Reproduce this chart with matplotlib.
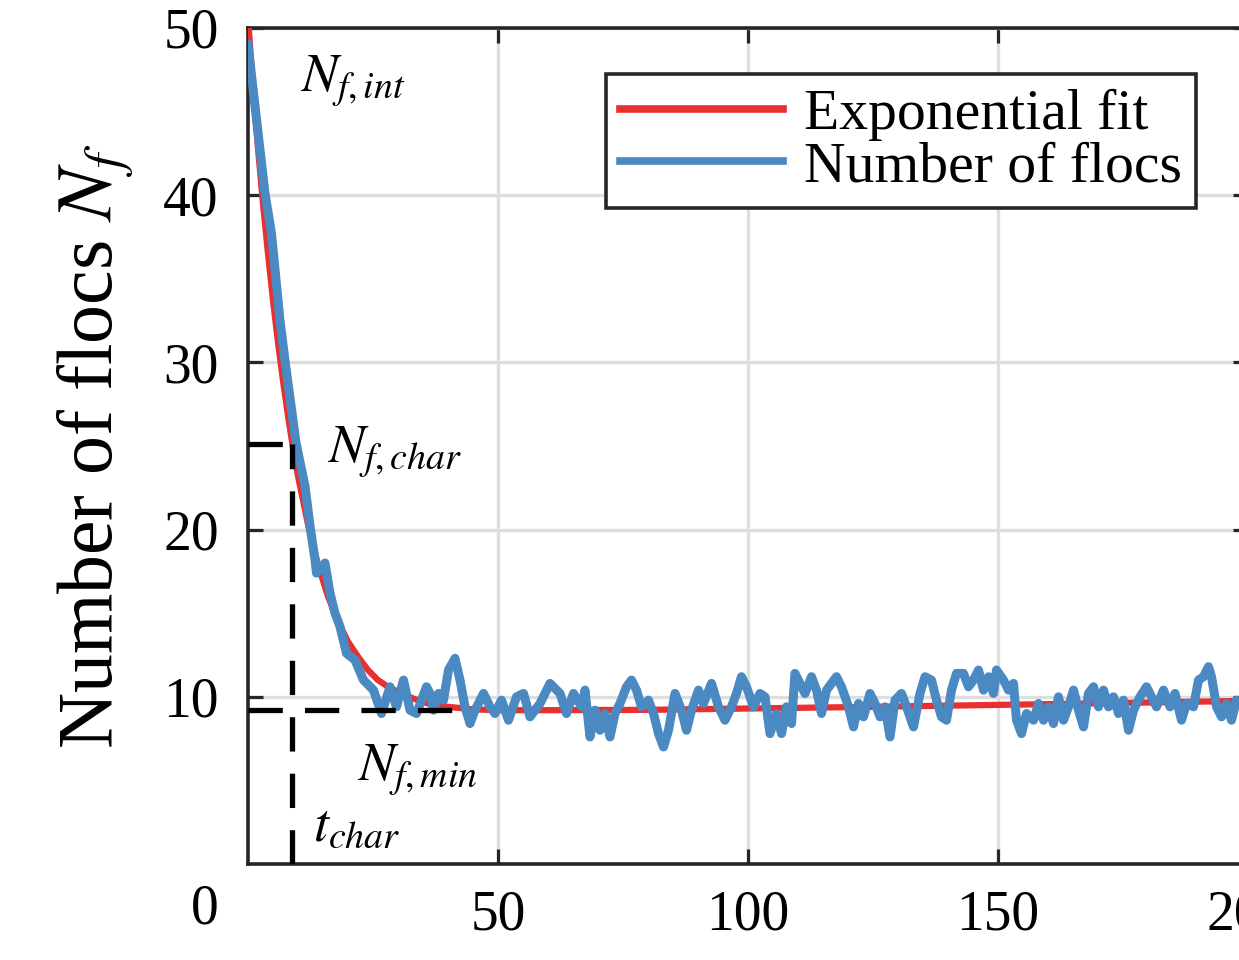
import matplotlib
matplotlib.use("Agg")
import matplotlib.pyplot as plt

# exponential fit
fit_t = [0, 1, 2, 3, 4, 5, 6, 7, 8, 9, 10, 12, 14, 16, 18, 20, 22, 24, 26, 28,
         30, 33, 36, 40, 45, 50, 60, 80, 100, 120, 140, 160, 180, 200]
fit_n = [50.6, 46.5, 42.8, 39.5, 36.5, 33.7, 31.2, 28.9, 26.8, 24.9, 23.2, 20.3,
         17.9, 16.0, 14.5, 13.3, 12.4, 11.6, 11.0, 10.6, 10.3, 9.9, 9.6, 9.4,
         9.25, 9.2, 9.2, 9.22, 9.3, 9.38, 9.47, 9.56, 9.66, 9.76]

# number of flocs (measured)
flocs_t = [0, 3.4, 4.7, 6.4, 7.4, 9.6, 11.4, 12.5, 13.4, 13.7, 15.4, 16.4, 17.4,
           18.4, 19.7, 21.4, 23.1, 25.1, 26.7, 28.4, 29.7, 31.1, 32.4, 33.7, 35.7,
           36.4, 37.1, 38.1, 39.1, 40.1, 41.4, 42.4, 43.4, 44.4, 45.4, 47.1, 48.4,
           49.4, 50.7, 52.1, 53.7, 55.1, 56.4, 58.4, 60.4, 62.4, 63.7, 65.1,
           66.7, 67.4, 68.4, 69.4, 70.4, 71.4, 72.4, 73.4, 74.4, 75.7, 76.7, 77.7,
           78.7, 80.1, 81.1, 82.1, 83.1, 84.1, 85.4, 86.7, 87.7, 88.7, 90.1, 91.1,
           92.7, 94.1, 95.4, 96.7, 97.7, 98.7, 99.7, 101.1, 102.4,
           103.4, 104.4, 105.7, 106.7, 107.7, 108.7, 109.4, 110.4, 111.4, 112.7,
           113.7, 114.7, 115.7, 116.7, 117.7, 118.7, 120.1, 121.1, 122.1, 123.1,
           124.4, 125.4, 126.4, 127.4, 128.4, 129.4, 130.7, 131.7, 133.1, 134.4,
           135.4, 136.7, 137.7, 138.7, 139.7, 140.7, 141.7,
           143.1, 144.1, 145.1, 146.1, 147.1, 148.1, 149.1, 149.7, 151.1, 152.1,
           153.1, 153.7, 154.7, 155.7, 157.1, 158.1, 159.1, 160.1, 161.1, 162.1,
           163.1, 164.1, 165.1, 166.1, 167.1, 168.1, 169.1, 170.1, 171.1, 172.1,
           173.1, 174.1, 175.1, 176.1, 177.1, 178.4, 179.7,
           181.7, 183.1, 184.4, 185.4, 186.7, 187.7, 189.1, 190.1, 191.1, 192.1,
           192.7, 193.7, 194.7, 195.7, 196.7, 197.7, 200]
flocs_n = [49.0, 40.1, 37.7, 32.5, 30.1, 25.2, 22.6, 20.0, 18.2, 17.4, 18.0, 16.2, 15.0,
           14.2, 12.6, 12.2, 11.0, 10.4, 9.0, 10.6, 9.4, 11.0, 9.2, 9.0, 10.6,
           10.2, 9.2, 10.2, 9.8, 11.6, 12.3, 11.0, 9.4, 8.4, 9.2, 10.2, 9.4,
           9.0, 9.8, 8.6, 10.0, 10.2, 8.8, 9.6, 10.8, 10.2, 9.0, 10.2,
           9.4, 10.4, 7.6, 9.2, 8.0, 9.0, 7.6, 9.0, 9.6, 10.6, 11.0, 10.4,
           9.4, 9.8, 9.0, 7.8, 7.0, 8.0, 10.2, 9.2, 8.0, 9.2, 10.4, 9.6,
           10.8, 9.4, 8.6, 9.4, 10.2, 11.2, 10.6, 9.4, 10.2,
           10.0, 7.8, 9.0, 7.8, 9.4, 8.4, 11.4, 10.8, 10.2, 11.2,
           10.4, 9.0, 10.4, 10.8, 11.2, 10.6, 9.4, 8.2, 9.6, 8.8,
           10.2, 9.6, 8.8, 9.4, 7.6, 9.8, 10.2, 9.4, 8.2, 10.2,
           11.2, 11.0, 9.8, 8.8, 8.6, 10.4, 11.4,
           11.4, 10.6, 11.0, 11.6, 10.4, 11.2, 10.2, 11.6, 11.0, 10.4,
           10.8, 8.6, 7.8, 9.0, 8.6, 9.6, 8.6, 9.4, 8.4, 10.0,
           8.6, 9.4, 10.4, 9.2, 8.2, 10.2, 10.6, 9.4, 10.4, 9.4,
           10.0, 9.0, 9.8, 8.0, 9.2, 10.0, 10.6,
           9.4, 10.4, 9.4, 10.2, 8.6, 9.6, 9.4, 11.0, 11.2, 11.8,
           11.2, 9.4, 8.8, 9.6, 8.6, 9.8, 9.4]

# characteristic point and minimum
t_char = 8.8
n_char = 25.1
n_min = 9.2
t_min_end = 45

x_ticks = [50, 100, 150, 200]
y_ticks = [10, 20, 30, 40, 50]

plt.rcParams['font.family'] = ['Liberation Serif', 'DejaVu Serif']
plt.rcParams['mathtext.fontset'] = 'stix'

red = '#e8302f'
blue = '#4a89c2'

fig = plt.figure(figsize=(12.39, 9.6), dpi=100)
ax = fig.add_axes([248 / 1239, 96 / 960, 1000 / 1239, 836 / 960])

ax.plot(fit_t, fit_n, color=red, lw=4.5, label='Exponential fit', zorder=3)
ax.plot(flocs_t, flocs_n, color=blue, lw=6.5, label='Number of flocs', zorder=4)

# dashed guide lines
dash = dict(color='black', lw=3.8, dashes=(6.5, 4.2), zorder=5)
ax.plot([t_char, t_char], [0, n_char], **dash)
ax.plot([0, t_char], [n_char, n_char], **dash)
ax.plot([0, t_min_end], [n_min, n_min], **dash)

ax.set_xlim(0, 200)
ax.set_ylim(0, 50)
ax.set_xticks(x_ticks)
ax.set_yticks(y_ticks)
ax.tick_params(direction='in', length=11, width=2.3, labelsize=40,
               top=True, right=True, color='#262626')
ax.tick_params(axis='y', pad=21)
ax.tick_params(axis='x', pad=18)
ax.grid(True, color='#dedede', lw=2.4, zorder=0)
ax.set_axisbelow(True)
for s in ax.spines.values():
    s.set_linewidth(2.6)
    s.set_color('#262626')

# the "0" label sits left of the axis
ax.text(-8.6, -2.75, '0', fontsize=40, ha='center', va='center', clip_on=False)

ax.set_ylabel('Number of flocs $N_f$', fontsize=56)
ax.yaxis.set_label_coords(-0.112, 0.5)

ax.text(10.4, 46.2, '$N_{f,int}$', fontsize=39, va='baseline')
ax.text(15.8, 24.0, '$N_{f,char}$', fontsize=39, va='baseline')
ax.text(21.8, 5.0, '$N_{f,min}$', fontsize=39, va='baseline')
ax.text(13.0, 1.4, '$t_{char}$', fontsize=39, va='baseline')

leg = ax.legend(loc='upper right', bbox_to_anchor=(1196 / 1239, 1 - 74 / 960),
                bbox_transform=fig.transFigure, fontsize=41.5, handlelength=2.83,
                handletextpad=0.35, labelspacing=0.0, borderpad=0.25,
                borderaxespad=0, fancybox=False, framealpha=1)
leg.get_frame().set_edgecolor('#262626')
leg.get_frame().set_linewidth(2.6)
for line in leg.get_lines():
    line.set_linewidth(5.5)

fig.savefig('out.png', dpi=100)
